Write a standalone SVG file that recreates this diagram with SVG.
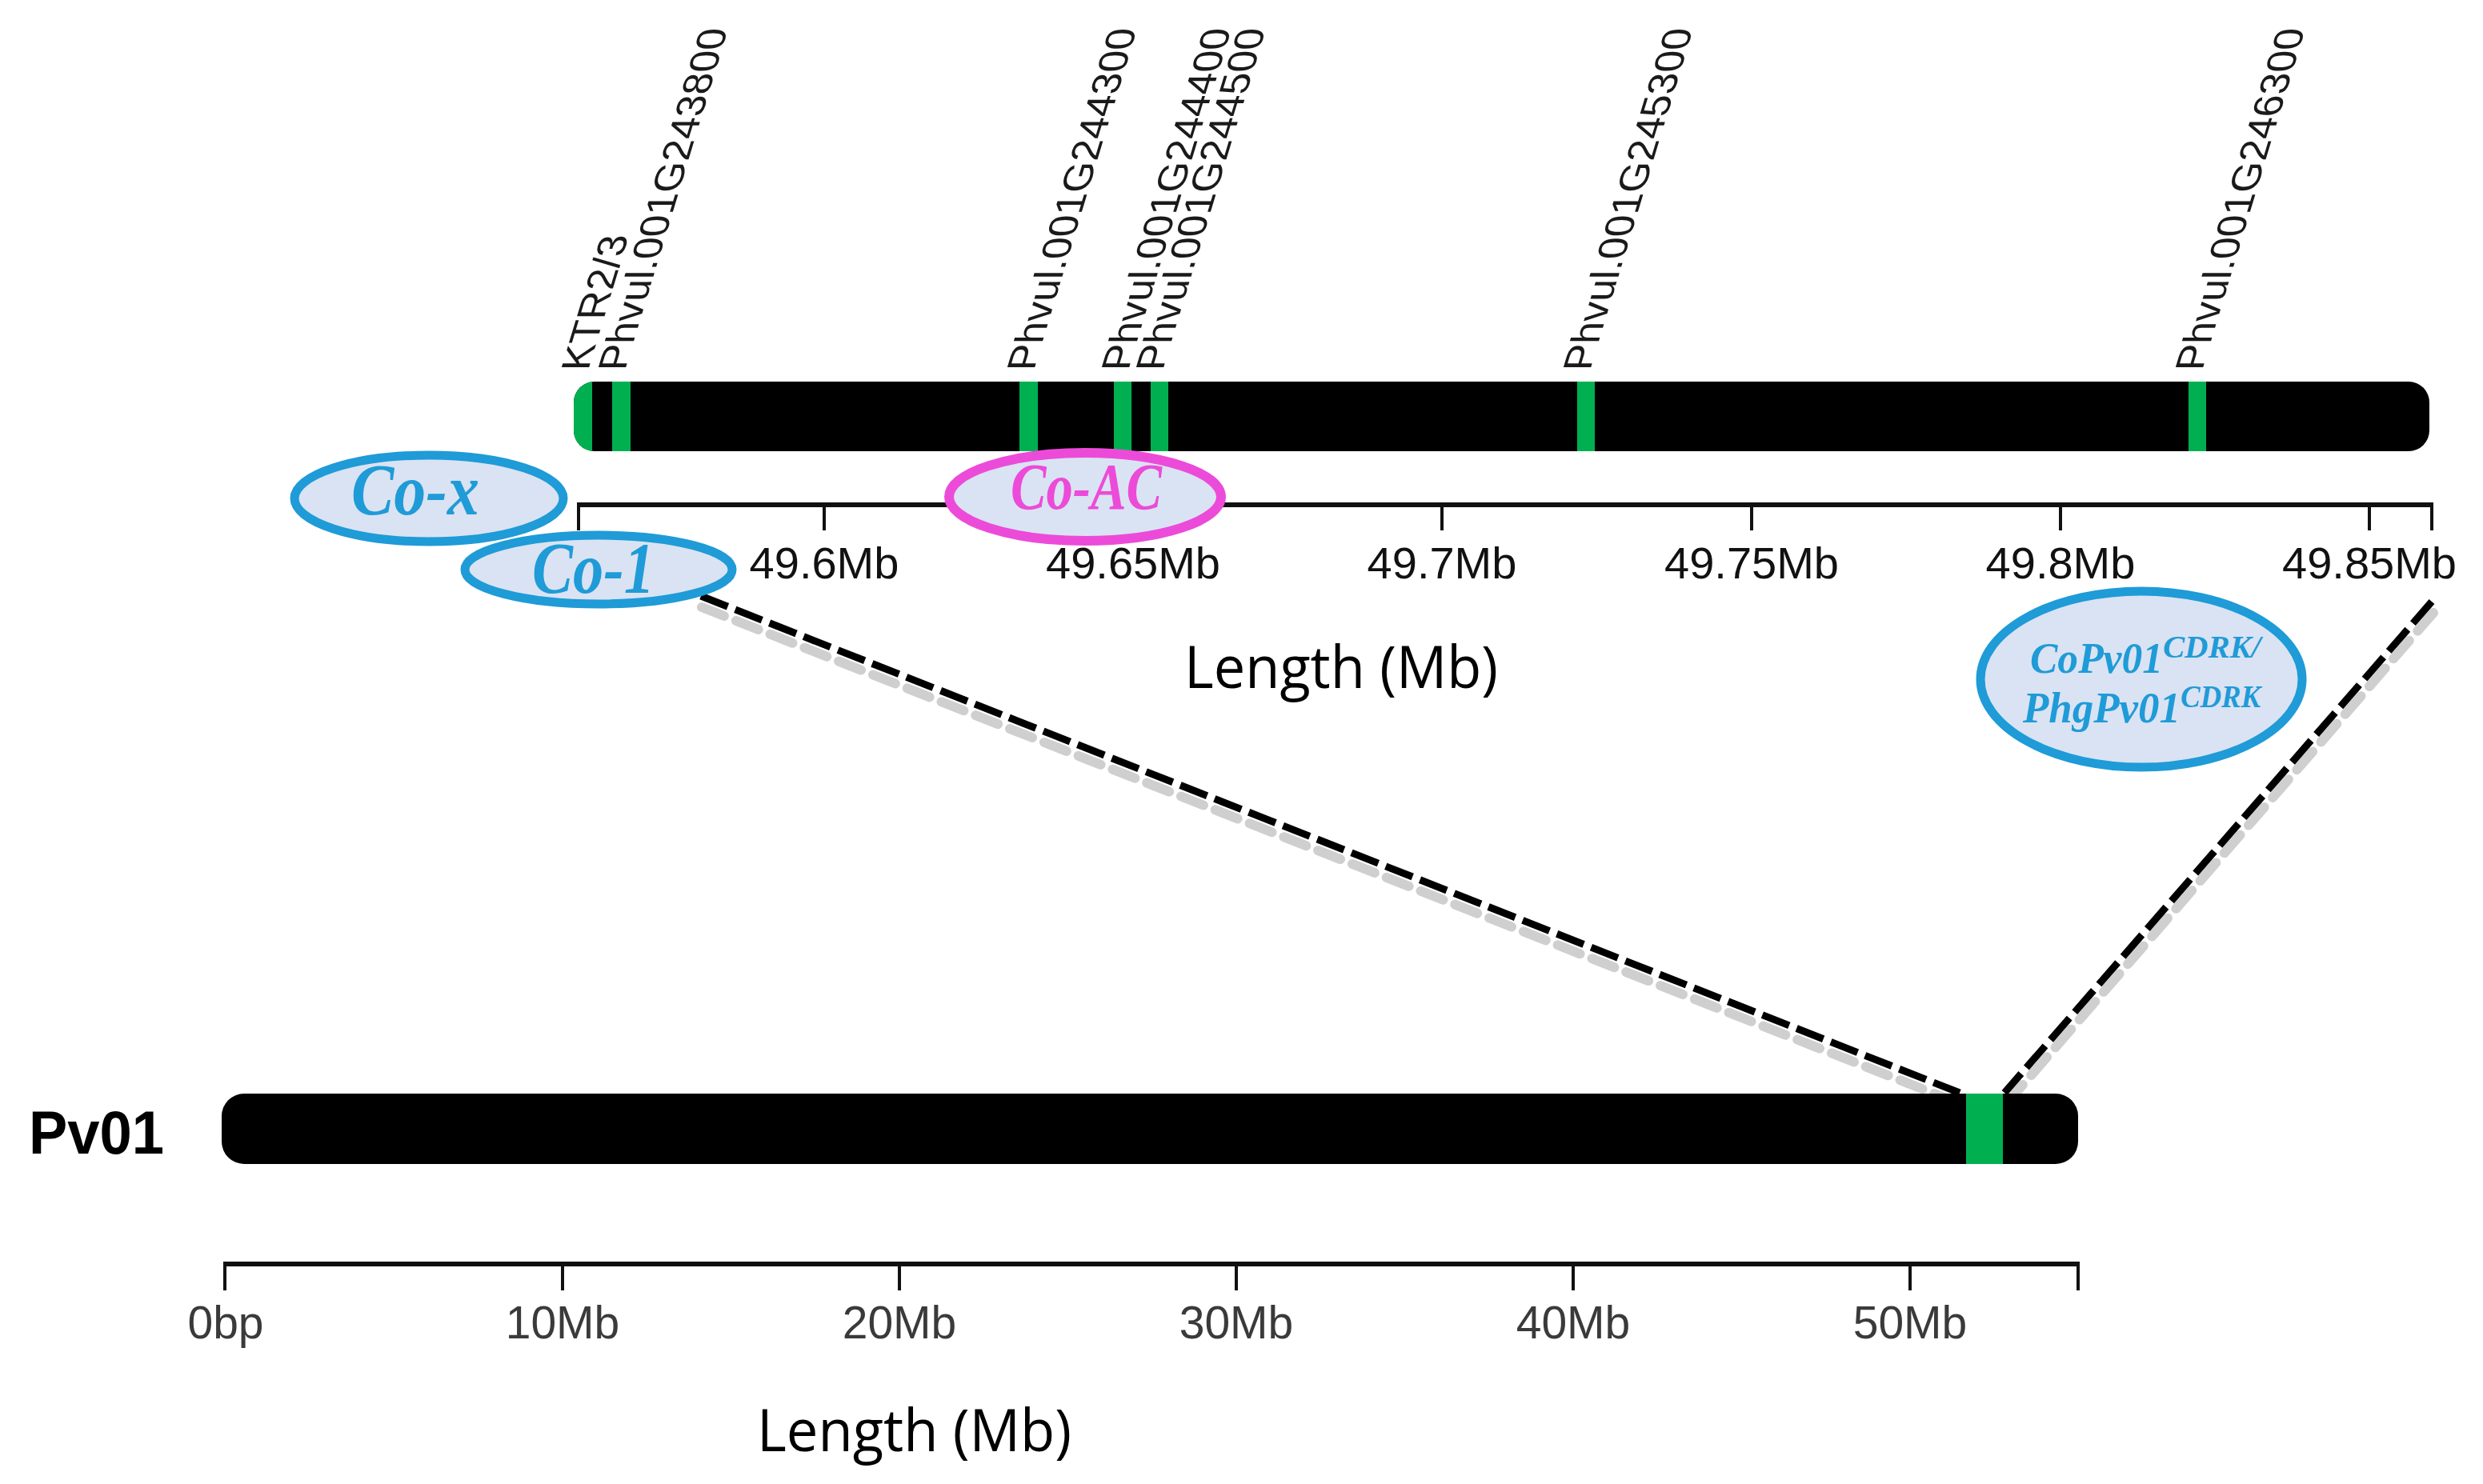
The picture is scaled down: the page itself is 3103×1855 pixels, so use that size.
<svg xmlns="http://www.w3.org/2000/svg" width="3103" height="1855" viewBox="0 0 3103 1855">
<style>
.gene{font-family:"Liberation Sans",Arial,sans-serif;font-size:50px;fill:#1a1a1a}
.tickT{font-family:"Liberation Sans",Arial,sans-serif;font-size:56px;fill:#111;text-anchor:middle}
.tickB{font-family:"Liberation Sans",Arial,sans-serif;font-size:57px;fill:#3a3a3a;text-anchor:middle}
.axis{stroke:#111;stroke-width:6;fill:none}
.tick{stroke:#111;stroke-width:4;fill:none}
.len{font-family:"Open Sans","Noto Sans",sans-serif;font-size:73px;fill:#000}
.green{fill:#00b050}
.qb{fill:#dae3f3;stroke:#1f9bd7;stroke-width:11}
.qm{fill:#dae3f3;stroke:#ec4bd9;stroke-width:12}
.qt{font-family:"Liberation Serif","Times New Roman",serif;font-weight:bold;font-style:italic;fill:#1f9bd7}
.dash{stroke:#000;stroke-width:9;stroke-dasharray:36 10;fill:none}
.shadow{stroke:#cfcfcf;stroke-width:12;stroke-dasharray:30 16;stroke-linecap:round;fill:none}
</style>
<defs>
<clipPath id="clipTop"><rect x="717" y="477" width="2319" height="87" rx="26" ry="26"/></clipPath>
<clipPath id="clipBot"><rect x="277" y="1367" width="2320" height="88" rx="28" ry="28"/></clipPath>
</defs>
<rect x="0" y="0" width="3103" height="1855" fill="#fff"/>

<g id="connectors">
<line class="shadow" x1="877" y1="759" x2="2450" y2="1380"/>
<line class="shadow" x1="3041" y1="766" x2="2507" y2="1380"/>
<line class="dash" x1="876" y1="745" x2="2449" y2="1366"/>
<line class="dash" x1="3039" y1="752" x2="2505" y2="1366"/>
</g>

<g id="chromosome-zoom">
<g clip-path="url(#clipTop)">
<rect x="717" y="477" width="2319" height="87" fill="#000"/>
<rect class="green" x="717" y="477" width="23" height="87"/>
<rect class="green" x="765" y="477" width="23" height="87"/>
<rect class="green" x="1274" y="477" width="23" height="87"/>
<rect class="green" x="1392" y="477" width="22" height="87"/>
<rect class="green" x="1438" y="477" width="22" height="87"/>
<rect class="green" x="1971" y="477" width="22" height="87"/>
<rect class="green" x="2735" y="477" width="22" height="87"/>
</g>
</g>

<g id="gene-labels">
<text class="gene" transform="translate(735,463) skewX(-16.8) rotate(-90)">KTR2/3</text>
<text class="gene" transform="translate(781,463) skewX(-16.8) rotate(-90)">Phvul.001G243800</text>
<text class="gene" transform="translate(1292,463) skewX(-16.8) rotate(-90)">Phvul.001G244300</text>
<text class="gene" transform="translate(1410,463) skewX(-16.8) rotate(-90)">Phvul.001G244400</text>
<text class="gene" transform="translate(1453,463) skewX(-16.8) rotate(-90)">Phvul.001G244500</text>
<text class="gene" transform="translate(1987,463) skewX(-16.8) rotate(-90)">Phvul.001G245300</text>
<text class="gene" transform="translate(2752,463) skewX(-16.8) rotate(-90)">Phvul.001G246300</text>
</g>

<g id="axis-zoom">
<line class="axis" x1="721" y1="631" x2="3041" y2="631"/>
<path class="tick" d="M723 631V663M1030 631V663M1416 631V663M1802 631V663M2189 631V663M2575 631V663M2961 631V663M3039 631V663"/>
<text class="tickT" x="1030" y="723">49.6Mb</text>
<text class="tickT" x="1416" y="723">49.65Mb</text>
<text class="tickT" x="1802" y="723">49.7Mb</text>
<text class="tickT" x="2189" y="723">49.75Mb</text>
<text class="tickT" x="2575" y="723">49.8Mb</text>
<text class="tickT" x="2961" y="723">49.85Mb</text>
<text class="len" x="1480" y="860" textLength="392" lengthAdjust="spacingAndGlyphs">Length (Mb)</text>
</g>

<g id="locus-cox">
<ellipse class="qb" cx="536" cy="623" rx="168" ry="54"/>
<text class="qt" x="439" y="643" font-size="92" textLength="160" lengthAdjust="spacingAndGlyphs">Co-x</text>
</g>
<g id="locus-co1">
<ellipse class="qb" cx="748" cy="712" rx="167" ry="43"/>
<text class="qt" x="665" y="741" font-size="92" textLength="153" lengthAdjust="spacingAndGlyphs">Co-1</text>
</g>
<g id="locus-coac">
<ellipse class="qm" cx="1356" cy="621" rx="170" ry="55"/>
<text class="qt" x="1263" y="636" font-size="82" style="fill:#ec4bd9" textLength="189" lengthAdjust="spacingAndGlyphs">Co-AC</text>
</g>
<g id="locus-copv01">
<ellipse class="qb" cx="2676" cy="849" rx="201" ry="110"/>
<text class="qt" x="2537" y="841" font-size="54" textLength="166" lengthAdjust="spacingAndGlyphs">CoPv01</text>
<text class="qt" x="2703" y="822" font-size="39" textLength="122" lengthAdjust="spacingAndGlyphs">CDRK/</text>
<text class="qt" x="2528" y="903" font-size="54" textLength="197" lengthAdjust="spacingAndGlyphs">PhgPv01</text>
<text class="qt" x="2725" y="884" font-size="39" textLength="100" lengthAdjust="spacingAndGlyphs">CDRK</text>
</g>

<g id="chromosome-pv01">
<text x="36" y="1442" font-family="Liberation Sans, Arial, sans-serif" font-weight="bold" font-size="76" textLength="169" lengthAdjust="spacingAndGlyphs" fill="#000">Pv01</text>
<g clip-path="url(#clipBot)">
<rect x="277" y="1367" width="2320" height="88" fill="#000"/>
<rect class="green" x="2457" y="1367" width="46" height="88"/>
</g>
</g>

<g id="axis-pv01">
<line class="axis" x1="279" y1="1580" x2="2599" y2="1580"/>
<path class="tick" d="M281 1580V1613M703 1580V1613M1124 1580V1613M1545 1580V1613M1966 1580V1613M2387 1580V1613M2597 1580V1613"/>
<text class="tickB" x="282" y="1673">0bp</text>
<text class="tickB" x="703" y="1673">10Mb</text>
<text class="tickB" x="1124" y="1673">20Mb</text>
<text class="tickB" x="1545" y="1673">30Mb</text>
<text class="tickB" x="1966" y="1673">40Mb</text>
<text class="tickB" x="2387" y="1673">50Mb</text>
<text class="len" x="946" y="1814" textLength="393" lengthAdjust="spacingAndGlyphs">Length (Mb)</text>
</g>
</svg>
